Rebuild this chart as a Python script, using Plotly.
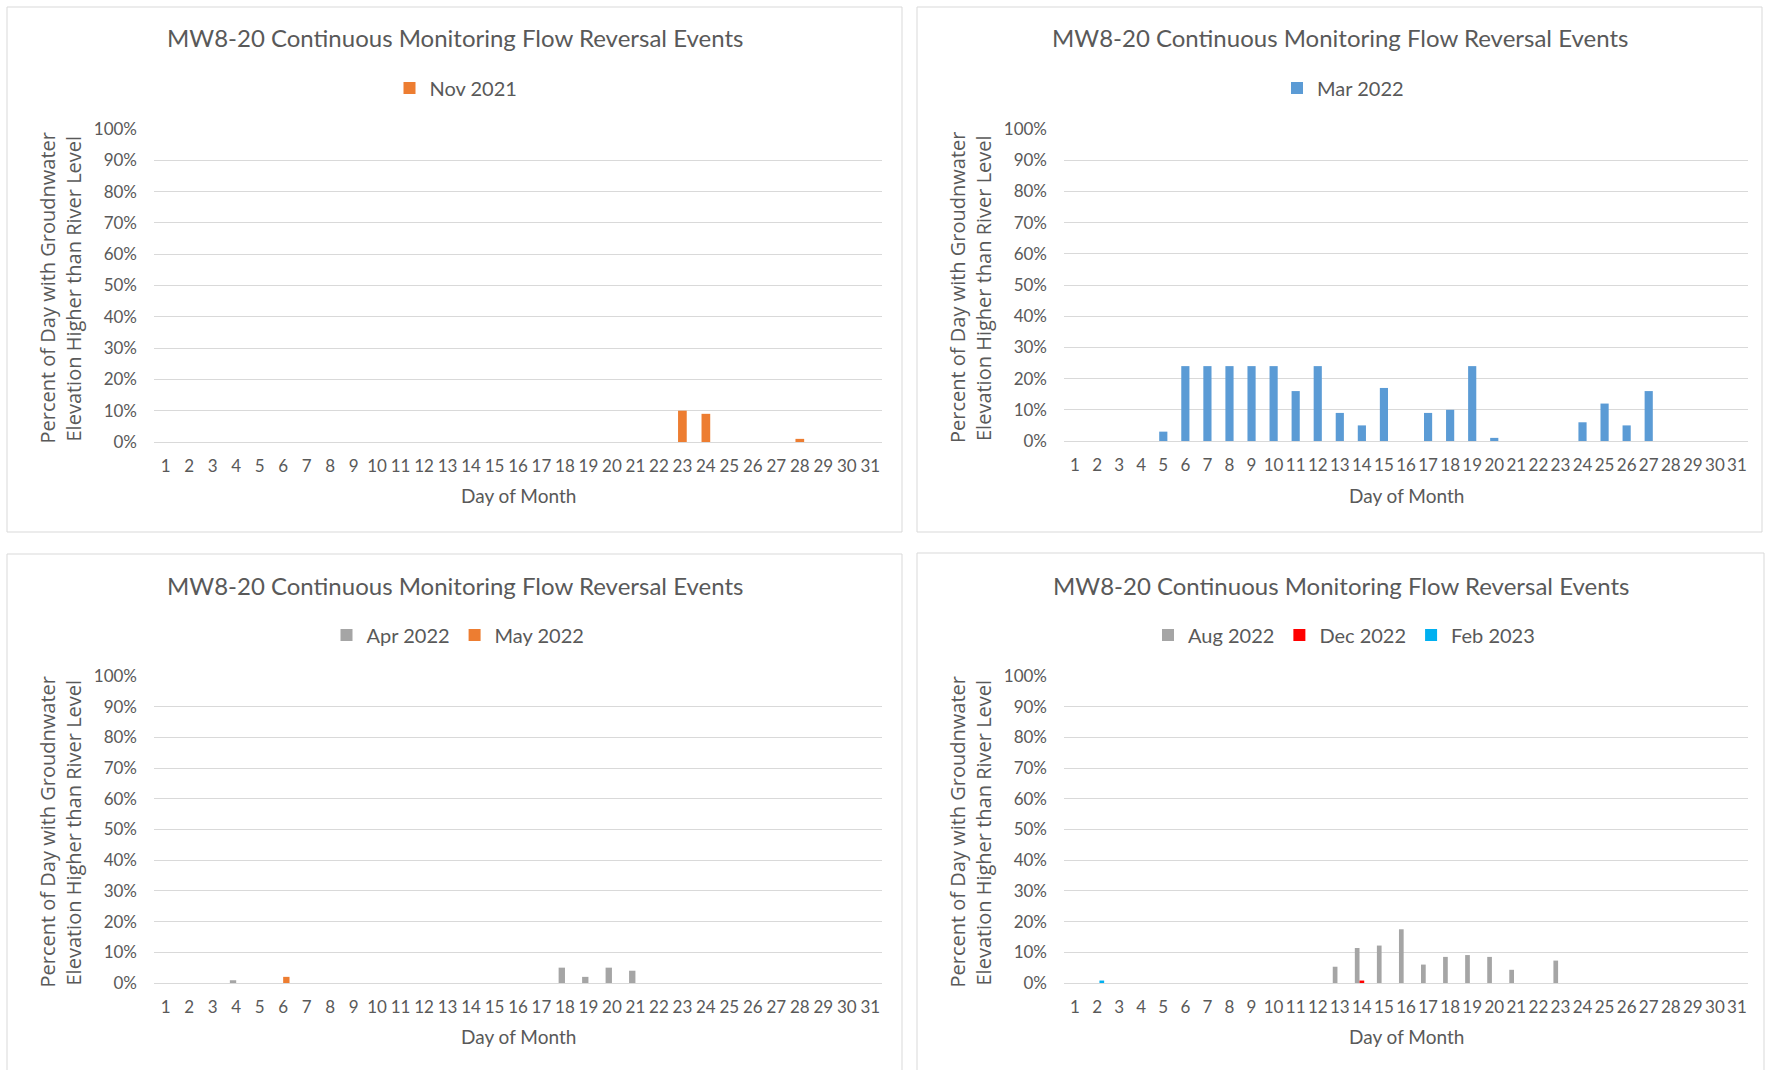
import plotly.graph_objects as go

W, H = 1767, 1070

# ---------------- data ----------------
days = list(range(1, 32))
day_labels = [str(d) for d in days]
y_tick_vals = [0, 0.1, 0.2, 0.3, 0.4, 0.5, 0.6, 0.7, 0.8, 0.9, 1.0]
y_tick_text = ["0%", "10%", "20%", "30%", "40%", "50%", "60%", "70%", "80%", "90%", "100%"]

nov_2021 = [0, 0, 0, 0, 0, 0, 0, 0, 0, 0, 0, 0, 0, 0, 0, 0, 0, 0, 0, 0,
            0, 0, 0.10, 0.09, 0, 0, 0, 0.01, 0, 0, 0]
mar_2022 = [0, 0, 0, 0, 0.03, 0.24, 0.24, 0.24, 0.24, 0.24, 0.16, 0.24, 0.09, 0.05, 0.17,
            0, 0.09, 0.10, 0.24, 0.01, 0, 0, 0, 0.06, 0.12, 0.05, 0.16, 0, 0, 0, 0]
apr_2022 = [0, 0, 0, 0.009, 0, 0, 0, 0, 0, 0, 0, 0, 0, 0, 0, 0, 0, 0.05, 0.02, 0.05,
            0.04, 0, 0, 0, 0, 0, 0, 0, 0, 0, 0]
may_2022 = [0, 0, 0, 0, 0, 0.02, 0, 0, 0, 0, 0, 0, 0, 0, 0, 0, 0, 0, 0, 0,
            0, 0, 0, 0, 0, 0, 0, 0, 0, 0, 0]
aug_2022 = [0, 0, 0, 0, 0, 0, 0, 0, 0, 0, 0, 0, 0.053, 0.114, 0.122, 0.175, 0.06, 0.085, 0.091, 0.085,
            0.043, 0, 0.073, 0, 0, 0, 0, 0, 0, 0, 0]
dec_2022 = [0, 0, 0, 0, 0, 0, 0, 0, 0, 0, 0, 0, 0, 0.008, 0, 0, 0, 0, 0, 0,
            0, 0, 0, 0, 0, 0, 0, 0, 0, 0, 0]
feb_2023 = [0, 0.008, 0, 0, 0, 0, 0, 0, 0, 0, 0, 0, 0, 0, 0, 0, 0, 0, 0, 0,
            0, 0, 0, 0, 0, 0, 0, 0, 0, 0, 0]

chart_title = "MW8-20 Continuous Monitoring Flow Reversal Events"
x_title = "Day of Month"
y_title_1 = "Percent of Day with Groudnwater"
y_title_2 = "Elevation Higher than River Level"

ORANGE, BLUE, GRAY, RED, CYAN = "#ED7D31", "#5B9BD5", "#A5A5A5", "#FF0000", "#00B0F0"

# ---------------- layout of the four panels (pixels) ----------------
panels = [
    dict(series=[("Nov 2021", nov_2021, ORANGE)],
         box=(7, 7, 902, 532), plot=(154, 129, 882, 442), title_y=38, legend_y=88,
         xtitle_y=495, legend_x=456),
    dict(series=[("Mar 2022", mar_2022, BLUE)],
         box=(917, 7, 1762, 532), plot=(1064, 129, 1748, 441), title_y=38, legend_y=88,
         xtitle_y=495, legend_x=1343),
    dict(series=[("Apr 2022", apr_2022, GRAY), ("May 2022", may_2022, ORANGE)],
         box=(7, 554, 902, None), plot=(154, 676, 882, 983), title_y=585, legend_y=635,
         xtitle_y=1036, legend_x=458),
    dict(series=[("Aug 2022", aug_2022, GRAY), ("Dec 2022", dec_2022, RED), ("Feb 2023", feb_2023, CYAN)],
         box=(917, 553, 1764, None), plot=(1064, 676, 1748, 983), title_y=585, legend_y=635,
         xtitle_y=1036, legend_x=1344),
]

TEXT = "#595959"
GRID = "#D9D9D9"
FONT = "Lato"


def px(x):
    return x / W


def py(y):
    return 1 - y / H


fig = go.Figure()
layout = dict(
    width=W, height=H, margin=dict(l=0, r=0, t=0, b=0, pad=0, autoexpand=False),
    paper_bgcolor="white", plot_bgcolor="white",
    barmode="overlay", showlegend=True,
    font=dict(family=FONT, color=TEXT),
    annotations=[], shapes=[],
)

for i, p in enumerate(panels):
    k = "" if i == 0 else str(i + 1)
    xa, ya = "x" + k, "y" + k
    leg = "legend" + k
    n = len(p["series"])
    w = 1.0 / (n + 1.7)
    for j, (name, vals, color) in enumerate(p["series"]):
        fig.add_trace(go.Bar(
            x=days, y=vals, name=name, marker=dict(color=color, line=dict(width=0)),
            width=w, offset=-n * w / 2 + j * w,
            xaxis=xa, yaxis=ya, legend=leg, hoverinfo="skip",
        ))
    x0, y0, x1, y1 = p["plot"]
    layout["xaxis" + k] = dict(
        domain=[px(x0), px(x1)], anchor=ya, range=[0.5, 31.5], automargin=False,
        tickmode="array", tickvals=days, ticktext=day_labels,
        showgrid=False, zeroline=False, showline=True, linecolor=GRID, linewidth=1,
        ticks="", tickfont=dict(family=FONT, size=17, color=TEXT), ticklabelstandoff=9,
        fixedrange=True,
    )
    layout["yaxis" + k] = dict(
        domain=[py(y1), py(y0)], anchor=xa, range=[0, 1], automargin=False,
        tickmode="array", tickvals=y_tick_vals, ticktext=y_tick_text,
        showgrid=True, gridcolor=GRID, gridwidth=1, zeroline=False, showline=False,
        ticks="", tickfont=dict(family=FONT, size=17, color=TEXT), ticklabelstandoff=16,
        fixedrange=True,
    )
    layout[leg] = dict(
        orientation="h", x=px(p["legend_x"]), y=py(p["legend_y"]),
        xanchor="center", yanchor="middle", bgcolor="rgba(0,0,0,0)",
        font=dict(family=FONT, size=20, color=TEXT), itemclick=False, itemdoubleclick=False,
    )
    bx0, by0, bx1, by1 = p["box"]
    if by1 is not None:
        layout["shapes"].append(dict(
            type="rect", xref="paper", yref="paper",
            x0=px(bx0), x1=px(bx1), y0=py(by1), y1=py(by0),
            line=dict(color=GRID, width=1), fillcolor="rgba(0,0,0,0)", layer="below",
        ))
    else:
        # panel cut by the bottom of the picture: three visible sides
        path = "M {a},{b} L {a},{c} L {d},{c} L {d},{b}".format(
            a=px(bx0), b=0.0, c=py(by0), d=px(bx1))
        layout["shapes"].append(dict(
            type="path", xref="paper", yref="paper", path=path,
            line=dict(color=GRID, width=1), layer="below",
        ))
    cx = (bx0 + bx1) / 2
    layout["annotations"].append(dict(
        text=chart_title, xref="paper", yref="paper", x=px(cx), y=py(p["title_y"]),
        xanchor="center", yanchor="middle", showarrow=False,
        font=dict(family=FONT, size=24, color=TEXT),
    ))
    layout["annotations"].append(dict(
        text=x_title, xref="paper", yref="paper", x=px((x0 + x1) / 2), y=py(p["xtitle_y"]),
        xanchor="center", yanchor="middle", showarrow=False,
        font=dict(family=FONT, size=19, color=TEXT),
    ))
    ymid = (y0 + y1) / 2 + 3
    for off, txt in ((40, y_title_1), (66, y_title_2)):
        layout["annotations"].append(dict(
            text=txt, xref="paper", yref="paper", x=px(bx0 + off), y=py(ymid),
            xanchor="center", yanchor="middle", showarrow=False, textangle=-90,
            font=dict(family="Open Sans", size=20, color=TEXT),
        ))

fig.update_layout(**layout)

fig.write_html(
    "out.html",
    config={"displayModeBar": False},
    post_script="document.body.style.margin='0';document.body.style.overflow='hidden';",
)
